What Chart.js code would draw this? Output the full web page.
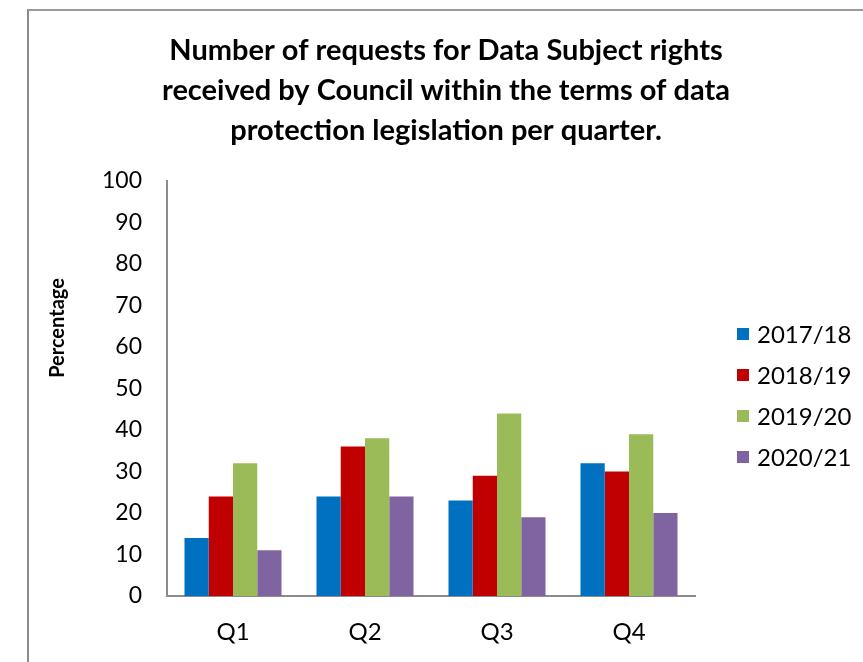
<!DOCTYPE html>
<html>
<head>
<meta charset="utf-8">
<script src="https://cdn.jsdelivr.net/npm/chart.js@4.4.1/dist/chart.umd.min.js"></script>
<style>
  html, body { margin: 0; padding: 0; background: #ffffff; width: 863px; height: 662px; overflow: hidden; }
  #frame { position: absolute; left: 27px; top: 9px; width: 900px; height: 651px;
           border-left: 2px solid #8a8a8a; border-top: 2px solid #9a9a9a; border-bottom: 1px solid #e4e4e4; }
  #wrap { position: absolute; left: 29px; top: 11px; width: 834px; height: 651px; }
</style>
</head>
<body>
<div id="frame"></div>
<div id="wrap"><canvas id="chart" width="834" height="651"></canvas></div>
<script>
// Quarterly request counts per financial year
const quarters = ['Q1', 'Q2', 'Q3', 'Q4'];
const years = ['2017/18', '2018/19', '2019/20', '2020/21'];
const fy2017 = [14, 24, 23, 32];
const fy2018 = [24, 36, 29, 30];
const fy2019 = [32, 38, 44, 39];
const fy2020 = [11, 24, 19, 20];
const yTicks = [0, 10, 20, 30, 40, 50, 60, 70, 80, 90, 100];
const yAxisTitle = 'Percentage';

const colours = ['#0070C0', '#C00000', '#9BBB59', '#8064A2'];
const seriesValues = [fy2017, fy2018, fy2019, fy2020];

const FONT = 'Lato, "Noto Sans", sans-serif';

// Legend to the right of the plot (one square + label per dataset) and the
// rotated value-axis caption, placed above the middle of the axis.
const sideLegend = {
  id: 'sideLegend',
  afterDraw(chart) {
    const ctx = chart.ctx;
    const x0 = 708, yStart = 323, step = 41, box = 12;
    ctx.save();
    ctx.font = '24px ' + FONT;
    ctx.textBaseline = 'middle';
    ctx.textAlign = 'left';
    chart.data.datasets.forEach((ds, i) => {
      const y = yStart + i * step;
      ctx.fillStyle = ds.backgroundColor;
      ctx.fillRect(x0, y - box / 2, box, box);
      ctx.fillStyle = '#000000';
      ctx.fillText(ds.label, x0 + 20, y + 1);
    });
    ctx.translate(29, 317);
    ctx.rotate(-Math.PI / 2);
    ctx.font = 'bold 20px ' + FONT;
    ctx.textAlign = 'center';
    ctx.fillText(yAxisTitle, 0, 0);
    ctx.restore();
  }
};

new Chart(document.getElementById('chart'), {
  type: 'bar',
  data: {
    labels: quarters,
    datasets: years.map((y, i) => ({
      label: y,
      data: seriesValues[i],
      backgroundColor: colours[i],
      borderWidth: 0,
      categoryPercentage: 0.735,
      barPercentage: 1.0
    }))
  },
  options: {
    responsive: false,
    animation: false,
    layout: { padding: 0 },
    plugins: {
      legend: { display: false },
      tooltip: { enabled: false },
      title: {
        display: true,
        text: ['Number of requests for Data Subject rights',
               'received by Council within the terms of data',
               'protection legislation per quarter.'],
        color: '#000000',
        font: { family: FONT, size: 29, weight: 'bold', lineHeight: 1.38 },
        padding: { top: 20, bottom: 30 }
      }
    },
    scales: {
      x: {
        afterFit(axis) { axis.height = 66; },
        grid: { display: false, drawTicks: false },
        border: { display: true, color: '#8c8c8c', width: 2 },
        ticks: { color: '#000000', font: { family: FONT, size: 24 }, padding: 22 }
      },
      y: {
        min: 0,
        max: 100,
        afterBuildTicks(axis) { axis.ticks = yTicks.map(v => ({ value: v })); },
        afterFit(axis) { axis.width = 138; },
        grid: { display: false, drawTicks: false },
        border: { display: true, color: '#8c8c8c', width: 2 },
        ticks: { color: '#000000', font: { family: FONT, size: 23 }, padding: 25 }
      },
      // empty right-hand strip that keeps room for the legend
      legendSpace: {
        position: 'right',
        afterFit(axis) { axis.width = 168; },
        grid: { display: false, drawTicks: false },
        border: { display: false },
        ticks: { display: false }
      }
    }
  },
  plugins: [sideLegend]
});
</script>
</body>
</html>
